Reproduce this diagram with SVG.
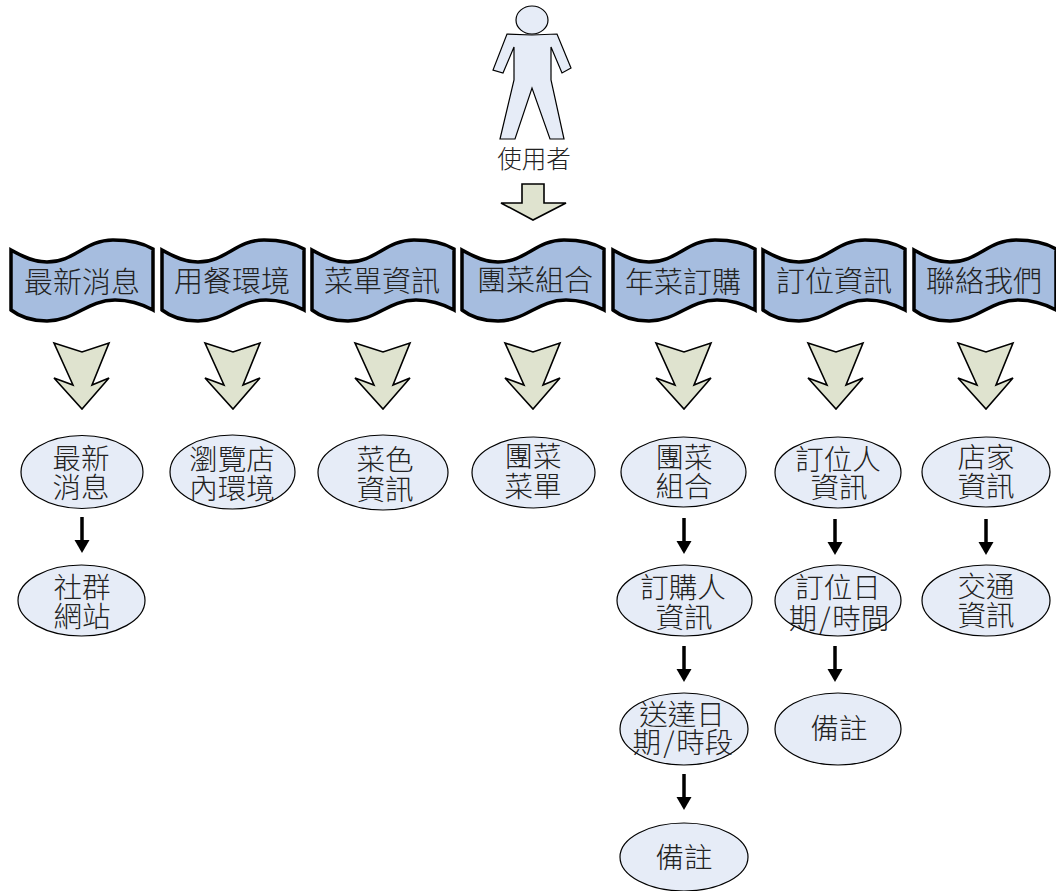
<svg xmlns="http://www.w3.org/2000/svg" width="1056" height="891" viewBox="0 0 1056 891">
<style>
text{font-family:"Noto Sans CJK TC","Noto Sans CJK SC",sans-serif;font-weight:300;fill:#222;text-anchor:middle;font-size:28.500px}
.t{font-size:29px}
.e{fill:#e6ecf7;stroke:#000;stroke-width:1.2}
.w{fill:#a6bddf;stroke:#000;stroke-width:3.500;stroke-linejoin:miter}
.c{fill:#dfe3cf;stroke:#000;stroke-width:1.600}
.l{stroke:#000;stroke-width:3.500;fill:none}
.h{fill:#000}
</style>
<defs>
<path id="wave" d="M11 250C25 258 35 262 47 262C75 262 85 240 113 240C130 240 143 243 153 249V310C140 303 128 300 115 300C87 300 75 321 47 321C32 321 20 317 11 310Z"/>
<path id="chev" d="M54 343L82 352L109 343L92 385L109 378L82 409L54 378L73 385Z"/>
<g id="sa"><path class="l" d="M0 0V24"/><path class="h" d="M-7.500 23H7.500L0 36Z"/></g>
</defs>
<g id="user">
<ellipse class="e" cx="532" cy="20" rx="16" ry="14"/>
<path class="e" d="M507 34L532 35L557 34L571 68L562 73L551 47V80L564 139H550L532 88L515 139H500L514 80V47L503 73L493 70Z"/>
<text x="534" y="168" style="font-size:24.500px">使用者</text>
</g>
<g id="down"><path class="c" d="M522 184H544V203H566L533 220L501 203H522Z"/></g>
<g id="m1"><use href="#wave" class="w"/><text class="t" x="82" y="293">最新消息</text></g>
<g id="m2"><use href="#wave" x="151" class="w"/><text class="t" x="232" y="292">用餐環境</text></g>
<g id="m3"><use href="#wave" x="301" class="w"/><text class="t" x="382" y="292">菜單資訊</text></g>
<g id="m4"><use href="#wave" x="451" class="w"/><text class="t" x="535" y="291">團菜組合</text></g>
<g id="m5"><use href="#wave" x="602" class="w"/><text class="t" x="683" y="293">年菜訂購</text></g>
<g id="m6"><use href="#wave" x="752" class="w"/><text class="t" x="834" y="292">訂位資訊</text></g>
<g id="m7"><use href="#wave" x="903" class="w"/><text class="t" x="984" y="292">聯絡我們</text></g>
<g id="chevrons">
<use href="#chev" class="c"/><use href="#chev" x="151" class="c"/><use href="#chev" x="301" class="c"/><use href="#chev" x="451" class="c"/><use href="#chev" x="602" class="c"/><use href="#chev" x="754" class="c"/><use href="#chev" x="904" class="c"/>
</g>
<g id="connectors">
<use href="#sa" x="82" y="517"/><use href="#sa" x="684" y="518"/><use href="#sa" x="684" y="646"/><use href="#sa" x="684" y="774"/><use href="#sa" x="835" y="519"/><use href="#sa" x="835" y="646"/><use href="#sa" x="986" y="519"/>
</g>
<g id="n1"><ellipse class="e" cx="82" cy="472" rx="61" ry="36.500"/><text><tspan x="81" y="469">最新</tspan><tspan x="81" y="498">消息</tspan></text></g>
<g id="n2"><ellipse class="e" cx="81.500" cy="600.500" rx="63.500" ry="35.500"/><text><tspan x="82" y="598">社群</tspan><tspan x="82" y="627">網站</tspan></text></g>
<g id="n3"><ellipse class="e" cx="232.500" cy="472" rx="62.500" ry="37"/><text><tspan x="232" y="470">瀏覽店</tspan><tspan x="232" y="499">內環境</tspan></text></g>
<g id="n4"><ellipse class="e" cx="383" cy="472.500" rx="65" ry="37.500"/><text><tspan x="385" y="470">菜色</tspan><tspan x="385" y="500">資訊</tspan></text></g>
<g id="n5"><ellipse class="e" cx="533.500" cy="472.500" rx="61.500" ry="35.500"/><text><tspan x="533" y="467">團菜</tspan><tspan x="533" y="497">菜單</tspan></text></g>
<g id="n6"><ellipse class="e" cx="683.500" cy="472" rx="62.500" ry="35"/><text><tspan x="684" y="468">團菜</tspan><tspan x="684" y="497">組合</tspan></text></g>
<g id="n7"><ellipse class="e" cx="684.500" cy="600.500" rx="67.500" ry="35.500"/><text><tspan x="683" y="598">訂購人</tspan><tspan x="684" y="628">資訊</tspan></text></g>
<g id="n8"><ellipse class="e" cx="684" cy="729" rx="64" ry="36"/><text><tspan x="682" y="725">送達日</tspan><tspan x="683" y="753">期<tspan dx="2">/</tspan><tspan dx="2">時段</tspan></tspan></text></g>
<g id="n9"><ellipse class="e" cx="684" cy="857" rx="64" ry="34"/><text x="684" y="868">備註</text></g>
<g id="n10"><ellipse class="e" cx="838" cy="472.500" rx="63" ry="35.500"/><text><tspan x="838" y="470">訂位人</tspan><tspan x="839" y="498">資訊</tspan></text></g>
<g id="n11"><ellipse class="e" cx="838" cy="600.500" rx="63" ry="35.500"/><text><tspan x="838" y="598">訂位日</tspan><tspan x="839" y="629">期<tspan dx="2">/</tspan><tspan dx="2">時間</tspan></tspan></text></g>
<g id="n12"><ellipse class="e" cx="838" cy="729" rx="63" ry="36"/><text x="839" y="739">備註</text></g>
<g id="n13"><ellipse class="e" cx="986" cy="472" rx="64" ry="35"/><text><tspan x="986" y="468">店家</tspan><tspan x="986" y="497">資訊</tspan></text></g>
<g id="n14"><ellipse class="e" cx="986" cy="600.500" rx="64" ry="35.500"/><text><tspan x="986" y="597">交通</tspan><tspan x="986" y="626">資訊</tspan></text></g>
</svg>
